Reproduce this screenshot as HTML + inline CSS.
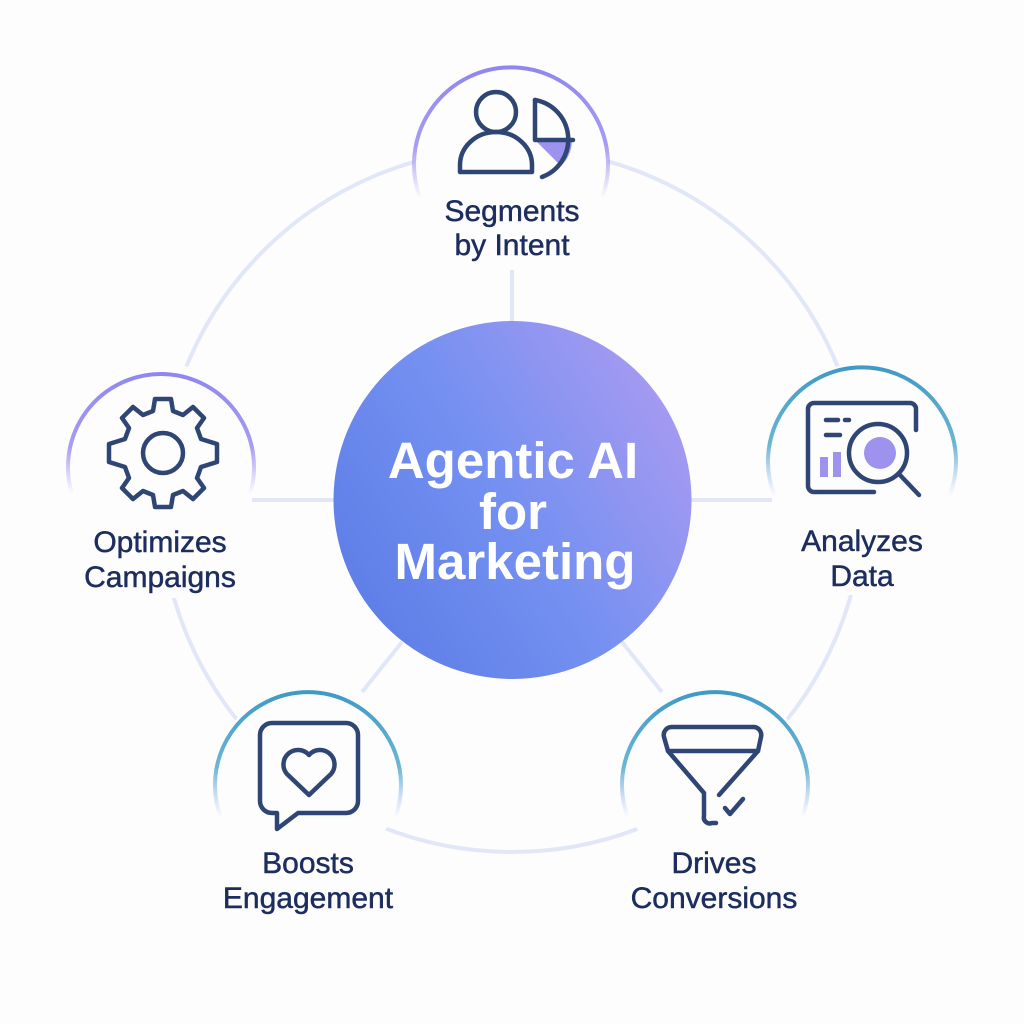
<!DOCTYPE html>
<html><head><meta charset="utf-8"><style>
html,body{margin:0;padding:0;background:#fdfdfe}
svg{display:block}
.l{font-family:"Liberation Sans",sans-serif;font-size:30px;fill:#1c2d5e;stroke:#1c2d5e;stroke-width:0.5;text-anchor:middle}
.c{font-family:"Liberation Sans",sans-serif;font-size:51px;font-weight:bold;fill:#fff;text-anchor:middle}
.ic{fill:none;stroke:#2f4675;stroke-width:4.5;stroke-linecap:round;stroke-linejoin:round}
</style></head><body>
<svg width="1024" height="1024" viewBox="0 0 1024 1024" xmlns="http://www.w3.org/2000/svg">
<defs>
<linearGradient id="cg" x1="333" y1="620" x2="692" y2="400" gradientUnits="userSpaceOnUse">
<stop offset="0" stop-color="#5b7ce6"/><stop offset="0.5" stop-color="#7490f1"/><stop offset="1" stop-color="#aa9bf1"/>
</linearGradient>
<linearGradient id="gp" x1="0" y1="0" x2="0" y2="1"><stop offset="0" stop-color="#8f87ef"/><stop offset="0.6" stop-color="#a79cf2"/><stop offset="1" stop-color="#a79cf2" stop-opacity="0"/></linearGradient>
<linearGradient id="gt" x1="0" y1="0" x2="0" y2="1"><stop offset="0" stop-color="#3f9ac4"/><stop offset="0.6" stop-color="#6cb6d4"/><stop offset="1" stop-color="#a9b8ee" stop-opacity="0"/></linearGradient>
</defs>
<rect width="1024" height="1024" fill="#fdfdfe"/>
<circle cx="512" cy="500" r="352" fill="none" stroke="#e2e7f7" stroke-width="4"/>
<g stroke="#e2e7f7" stroke-width="4">
<line x1="512" y1="270" x2="512" y2="325"/>
<line x1="690" y1="500" x2="772" y2="500"/>
<line x1="252" y1="500" x2="335" y2="500"/>
<line x1="402" y1="642" x2="362" y2="692"/>
<line x1="622" y1="642" x2="662" y2="692"/>
</g>
<g fill="#fdfdfe">
<circle cx="511" cy="160" r="97"/><rect x="425" y="190" width="175" height="75"/>
<circle cx="862" cy="457" r="94"/><rect x="780" y="520" width="165" height="75"/>
<circle cx="715" cy="778" r="93"/><rect x="610" y="840" width="210" height="75"/>
<circle cx="308" cy="778" r="93"/><rect x="205" y="840" width="210" height="75"/>
<circle cx="161" cy="456" r="93"/><rect x="65" y="518" width="195" height="80"/>
</g>
<g fill="none" stroke-width="4">
<path d="M420,198 A97,97 0 1 1 602,198" stroke="url(#gp)"/>
<path d="M72,494 A93,93 0 1 1 250,494" stroke="url(#gp)"/>
<path d="M775,497 A94,94 0 1 1 949,497" stroke="url(#gt)"/>
<path d="M628,818 A93,93 0 1 1 802,818" stroke="url(#gt)"/>
<path d="M221,818 A93,93 0 1 1 395,818" stroke="url(#gt)"/>
</g>
<circle cx="512.5" cy="500" r="179" fill="url(#cg)"/>
<text class="c" x="513" y="478">Agentic AI</text>
<text class="c" x="513" y="529">for</text>
<text class="c" x="515" y="579">Marketing</text>
<circle class="ic" cx="496" cy="112" r="20"/>
<path class="ic" d="M460,172 V165 A36,33 0 0 1 532,165 V172 Z"/>
<path d="M535,140 L572,140 A37,37 0 0 1 561,166 Z" fill="#9d93ef"/>
<path class="ic" d="M535,100 V140 H573"/>
<path class="ic" d="M535,100 A40,40 0 0 1 542,177"/>
<path class="ic" d="M874,492 H814 A6,6 0 0 1 808,486 V409 A6,6 0 0 1 814,403 H910 A6,6 0 0 1 916,409 V430"/>
<line class="ic" x1="826" y1="420" x2="838" y2="420"/><line class="ic" x1="845" y1="420" x2="849" y2="420"/>
<line class="ic" x1="826" y1="435" x2="840" y2="435"/>
<rect x="820" y="457" width="8" height="20" fill="#9d93ef"/><rect x="833" y="452" width="8" height="25" fill="#9d93ef"/>
<circle class="ic" cx="878" cy="453" r="29"/>
<circle cx="880" cy="453" r="16" fill="#9d93ef"/>
<line class="ic" x1="899" y1="474" x2="919" y2="495"/>
<g transform="translate(163,453)">
<path class="ic" d="M-8,-54 H8 L10,-42 L20,-38 L30,-46 L41,-35 L34,-25 L38,-14 L54,-9 V9 L38,14 L34,25 L41,35 L30,46 L20,38 L10,42 L8,54 H-8 L-10,42 L-20,38 L-30,46 L-41,35 L-34,25 L-38,14 L-54,9 V-9 L-38,-14 L-34,-25 L-41,-35 L-30,-46 L-20,-38 L-10,-42 Z"/>
<circle class="ic" cx="0" cy="0" r="20"/>
</g>
<path class="ic" d="M272,723 H346 A12,12 0 0 1 358,735 V801 A12,12 0 0 1 346,813 H298 L277,829 V813 H272 A12,12 0 0 1 260,801 V735 A12,12 0 0 1 272,723 Z"/>
<path class="ic" d="M309,795 L287,774 A13,13 0 0 1 309,755 A13,13 0 0 1 331,774 Z"/>
<path class="ic" d="M672,727 H754 A8,8 0 0 1 761,737 L758,751 H668 L664,737 A8,8 0 0 1 672,727 Z"/>
<path class="ic" d="M668,751 L704,793 V816 A6,6 0 0 0 712,823 H716"/>
<path class="ic" d="M758,751 L719,795"/>
<path class="ic" d="M725,808 L730,814 L743,799"/>
<text class="l" x="512" y="221">Segments</text><text class="l" x="512" y="255">by Intent</text>
<text class="l" x="862" y="551">Analyzes</text><text class="l" x="862" y="586">Data</text>
<text class="l" x="714" y="873">Drives</text><text class="l" x="714" y="908">Conversions</text>
<text class="l" x="308" y="873">Boosts</text><text class="l" x="308" y="908">Engagement</text>
<text class="l" x="160" y="552">Optimizes</text><text class="l" x="160" y="587">Campaigns</text>
</svg>
</body></html>
